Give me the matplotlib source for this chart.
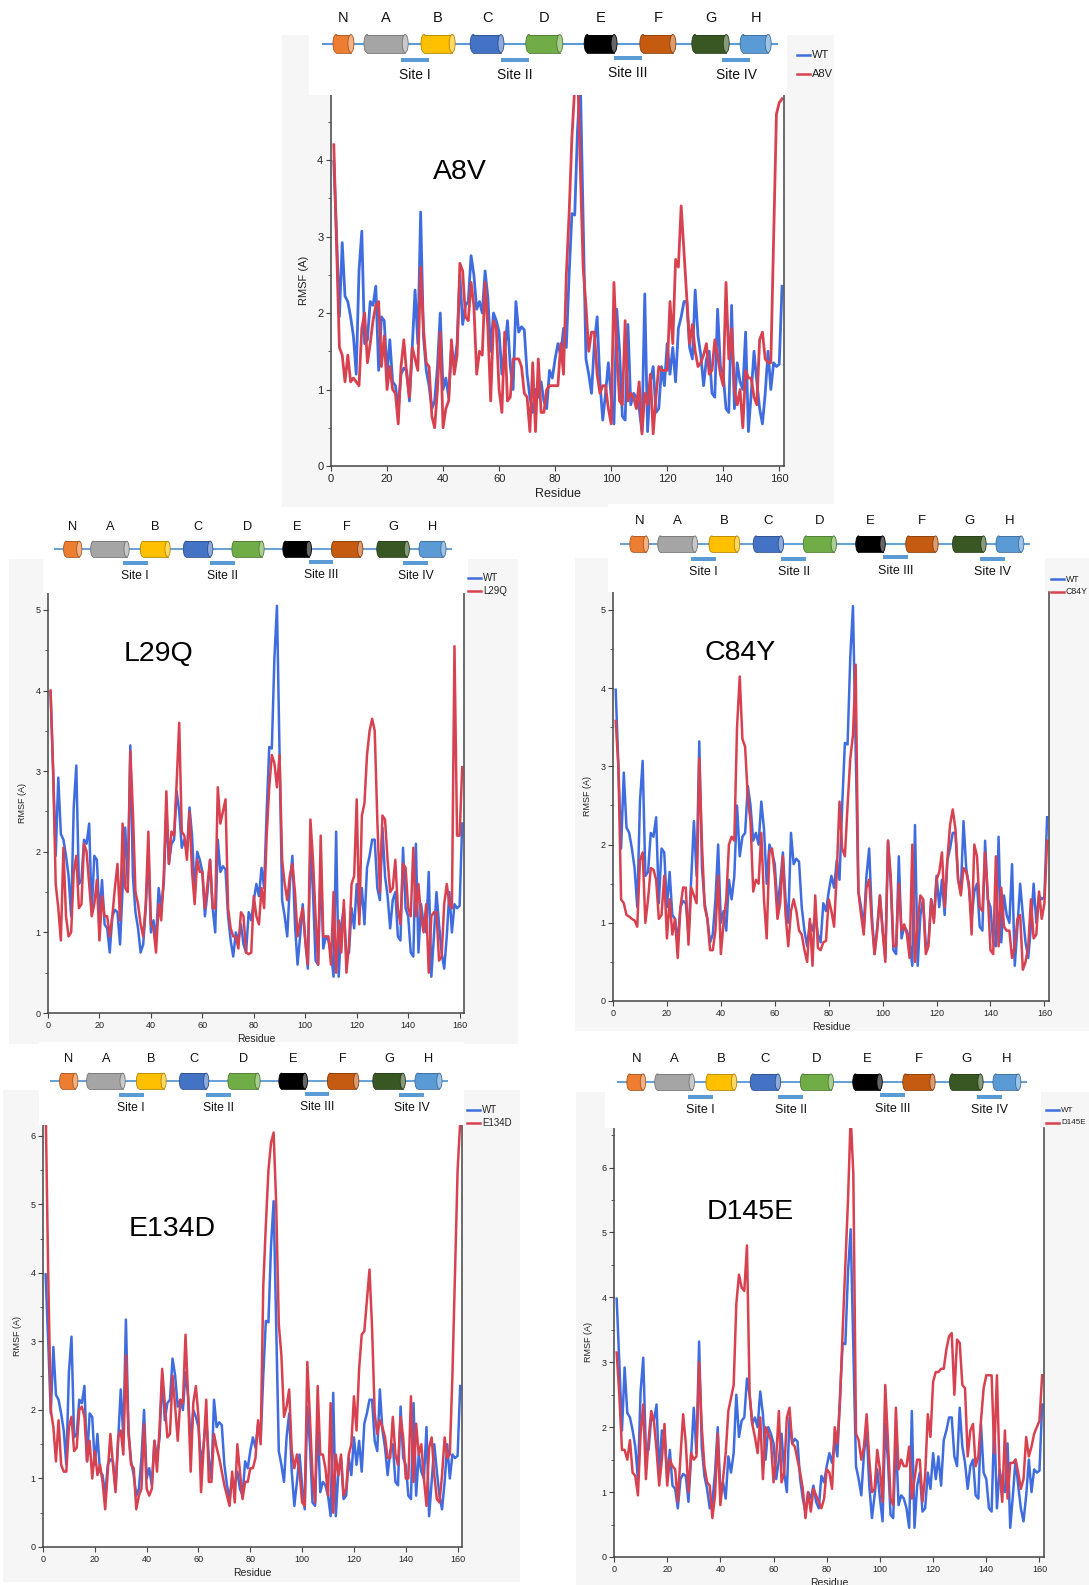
import numpy as np
import matplotlib
matplotlib.use("Agg")
import matplotlib.pyplot as plt
from matplotlib.patches import Rectangle, Ellipse
from matplotlib.lines import Line2D
from matplotlib.ticker import MultipleLocator
from matplotlib import colors as mcolors

plt.rcParams['font.family'] = ['Liberation Sans', 'DejaVu Sans']

W, H = 1089, 1585
BLUE = '#3f6ddf'
RED = '#d8414f'
BACKBONE = '#5b9bd5'
PANEL_BG = '#f6f6f6'

# per-residue RMSF (residues 1..161)
wt = [3.98, 3.0, 1.95, 2.92, 2.22, 2.15, 1.95, 1.7, 1.2, 2.55,
      3.07, 1.6, 1.65, 2.15, 2.1, 2.35, 1.25, 1.95, 1.9, 1.2,
      1.65, 1.1, 1.05, 0.75, 1.2, 1.28, 1.25, 0.85, 1.55, 2.3,
      1.6, 3.32, 1.7, 1.25, 1.05, 0.75, 0.85, 1.3, 2.0, 1.0,
      1.15, 0.9, 1.55, 1.3, 1.6, 2.5, 1.85, 2.1, 2.15, 2.75,
      2.5, 2.05, 2.15, 2.0, 2.55, 2.2, 1.5, 2.0, 1.9, 1.75,
      1.2, 1.5, 1.9, 1.3, 1.0, 2.15, 1.75, 1.82, 1.78, 1.2,
      0.9, 0.7, 1.0, 0.9, 1.1, 0.85, 0.75, 1.25, 1.15, 1.4,
      1.6, 1.45, 1.8, 1.55, 2.5, 3.3, 3.28, 4.4, 5.05, 3.2,
      1.4, 1.2, 0.95, 1.6, 1.95, 1.1, 0.6, 0.95, 1.35, 0.9,
      0.55, 2.05, 1.5, 0.65, 0.6, 1.85, 0.8, 0.95, 0.9, 0.75,
      0.45, 2.25, 0.45, 1.1, 1.3, 0.7, 0.75, 1.3, 1.05, 1.6,
      1.2, 1.55, 1.1, 1.8, 1.95, 2.15, 2.15, 1.55, 1.4, 2.3,
      1.7, 1.45, 1.05, 1.4, 1.5, 0.95, 0.9, 2.05, 1.3, 1.2,
      0.75, 0.7, 2.1, 0.75, 1.35, 1.1, 1.0, 1.75, 0.45, 0.95,
      1.5, 1.1, 0.75, 0.55, 0.95, 1.5, 1.0, 1.35, 1.3, 1.33, 2.35]

a8v = [4.2, 2.9, 1.55, 1.45, 1.1, 1.45, 1.1, 1.15, 1.1, 1.05,
       1.8, 2.0, 1.35, 1.6, 1.9, 2.1, 2.15, 1.3, 1.7, 1.0,
       1.3, 1.0, 0.95, 0.55, 1.3, 1.65, 1.2, 0.9, 1.55, 1.4,
       1.25, 2.6, 1.8, 1.35, 1.3, 0.65, 0.5, 1.0, 1.75, 0.5,
       0.75, 0.85, 1.65, 1.2, 1.45, 2.65, 2.55, 1.95, 1.9, 2.4,
       2.1, 1.2, 1.5, 1.45, 2.4, 1.8, 0.85, 1.9, 1.8, 1.0,
       0.7, 1.75, 0.85, 0.9, 1.4, 1.4, 1.4, 1.3, 0.95, 0.9,
       0.45, 1.35, 0.45, 1.4, 0.7, 0.7, 1.0, 1.05, 1.05, 1.05,
       1.05, 1.6, 1.2, 2.5, 3.3, 4.3, 4.95, 5.2, 3.9, 2.6,
       2.1, 1.5, 1.75, 1.75, 1.2, 0.95, 1.05, 1.05, 0.75, 0.55,
       2.4, 1.5, 0.85, 0.8, 1.9, 0.85, 0.95, 0.9, 0.75, 1.1,
       0.42, 0.95, 0.8, 1.2, 0.42, 0.9, 1.3, 1.25, 1.25, 1.25,
       2.15, 1.6, 2.7, 2.6, 3.4, 2.8, 2.2, 1.6, 1.85, 1.5,
       1.3, 1.35, 1.45, 1.6, 1.2, 1.25, 1.65, 1.45, 1.2, 1.05,
       2.4, 1.4, 1.8, 1.0, 0.8, 1.0, 0.5, 1.25, 1.15, 1.15,
       0.9, 0.8, 1.65, 1.75, 1.4, 1.35, 1.35, 3.0, 4.6, 4.75, 4.8]

l29q = [4.0, 3.0, 1.6, 1.3, 0.9, 2.05, 1.2, 0.95, 1.0, 1.75,
        1.95, 1.3, 1.35, 2.1, 2.0, 1.6, 1.2, 1.35, 1.65, 0.9,
        1.45, 1.2, 1.2, 0.95, 1.2, 1.55, 1.85, 1.15, 2.35, 1.55,
        1.5, 3.25, 2.5, 1.5, 1.35, 1.1, 0.95, 1.35, 2.25, 1.1,
        1.05, 0.75, 1.35, 1.15, 1.7, 2.75, 1.85, 2.25, 2.2, 2.85,
        3.6, 2.25, 2.2, 1.9, 2.5, 1.75, 1.35, 1.9, 1.75, 1.75,
        1.3, 1.6, 1.9, 1.3, 1.3, 2.8, 2.35, 2.5, 2.65, 1.3,
        1.05, 0.95, 0.95, 0.8, 1.25, 1.2, 0.75, 0.73, 0.75, 1.45,
        1.2, 1.1, 1.55, 1.3, 2.2, 2.8, 3.2, 3.1, 2.8, 3.2,
        1.9, 1.6, 1.4, 1.7, 1.85, 1.5, 0.95, 1.15, 1.3, 0.9,
        0.6, 2.4, 1.9, 1.2, 0.6, 2.2, 0.95, 0.95, 0.95, 0.6,
        1.5, 0.5, 1.15, 0.75, 1.4, 0.5, 0.85, 1.6, 1.7, 2.65,
        1.1, 2.45, 2.6, 3.2, 3.5, 3.65, 3.5, 2.4, 1.5, 2.45,
        2.4, 1.9, 1.5, 1.55, 1.9, 1.3, 1.1, 1.85, 1.8, 1.3,
        1.2, 2.05, 1.2, 1.6, 1.2, 1.0, 1.35, 0.5, 1.2, 1.25,
        1.25, 0.65, 0.7, 1.35, 1.6, 1.35, 1.3, 4.55, 2.2, 2.2, 3.05]

c84y = [3.58, 3.0, 1.3, 1.25, 1.1, 1.08, 1.05, 1.03, 0.95, 1.8,
        1.9, 1.0, 1.3, 1.7, 1.68, 1.55, 1.05, 1.1, 1.6, 0.8,
        1.3, 0.85, 1.05, 0.55, 1.2, 1.45, 1.45, 0.72, 1.45, 1.35,
        1.25, 3.1, 2.0, 1.2, 1.05, 0.65, 0.65, 0.9, 1.6, 0.6,
        1.0, 1.3, 2.0, 2.1, 2.05, 3.5, 4.15, 3.35, 3.25, 2.6,
        2.3, 1.4, 1.55, 1.5, 2.15, 1.3, 0.8, 1.9, 1.95, 1.6,
        1.05, 1.25, 1.85, 1.1, 0.7, 1.15, 1.3, 1.15, 0.9, 0.85,
        0.65, 0.5, 1.05, 0.45, 1.35, 0.68, 0.65, 0.75, 0.77, 1.3,
        1.15, 0.95, 1.65, 2.55, 1.95, 1.85, 2.5, 3.1, 3.4, 4.3,
        1.4, 1.1, 0.85, 1.45, 1.55, 1.0, 0.6, 0.9, 1.35, 0.9,
        0.5, 2.05, 1.6, 0.7, 0.7, 1.5, 0.9, 0.98, 0.85, 0.55,
        2.0, 0.5, 1.0, 1.35, 1.3, 0.6, 0.7, 1.3, 1.0, 1.55,
        1.65, 1.9, 1.2, 1.8, 2.25, 2.45, 2.2, 1.55, 1.35, 1.7,
        1.65, 1.5, 0.85, 2.0, 1.85, 1.2, 1.15, 1.9, 1.35, 0.65,
        0.6, 1.85, 0.7, 1.45, 0.95, 0.9, 0.9, 0.55, 0.7, 1.05,
        1.1, 0.4, 0.5, 0.7, 1.3, 0.8, 0.85, 1.4, 1.05, 1.25, 2.05]

e134d = [6.5, 4.0, 2.0, 1.75, 1.25, 1.85, 1.2, 1.1, 1.1, 1.75,
         1.9, 1.4, 1.45, 2.0, 2.05, 1.9, 1.25, 1.55, 1.0, 1.4,
         1.05, 1.2, 0.95, 0.55, 1.1, 1.65, 1.2, 0.8, 1.6, 1.7,
         1.35, 2.8, 1.65, 1.2, 1.15, 0.55, 0.75, 0.85, 1.8, 0.85,
         0.75, 0.85, 1.55, 1.1, 1.75, 2.6, 2.1, 1.6, 1.65, 2.5,
         2.05, 1.55, 2.15, 2.1, 3.1, 2.2, 1.1, 2.1, 2.35, 1.9,
         0.8, 1.45, 2.15, 0.95, 0.95, 1.65, 1.45, 1.3, 1.1, 0.9,
         0.75, 0.6, 1.1, 0.65, 1.5, 1.1, 0.7, 0.95, 0.95, 1.15,
         1.15, 1.3, 1.85, 1.5, 3.8, 4.7, 5.5, 5.9, 6.05, 5.0,
         3.25, 2.8, 1.9, 2.05, 2.3, 1.4, 1.15, 1.35, 1.1, 0.65,
         0.6, 2.7, 1.9, 1.05, 0.65, 2.35, 1.35, 1.35, 1.15, 0.75,
         2.1, 0.5, 1.35, 1.05, 1.35, 0.75, 0.85, 1.35, 1.5, 2.2,
         1.7, 2.6, 3.1, 3.15, 3.6, 4.05, 3.2, 1.95, 1.65, 1.85,
         1.75, 1.6, 1.3, 1.3, 1.9, 1.35, 1.2, 1.9, 1.6, 1.0,
         1.0, 2.2, 0.95, 1.8, 1.35, 1.5, 1.0, 0.6, 1.45, 1.6,
         1.05, 0.7, 0.65, 1.05, 1.6, 1.3, 1.35, 2.5, 4.0, 5.5, 6.2]

d145e = [3.15, 2.5, 1.65, 1.65, 1.5, 1.8, 1.3, 1.25, 0.95, 1.9,
         2.35, 1.2, 1.8, 2.25, 2.1, 1.65, 1.1, 1.5, 2.05, 1.1,
         1.5, 1.4, 1.35, 0.85, 1.55, 2.2, 1.75, 1.0, 1.6, 1.5,
         1.55, 3.0, 2.0, 1.4, 1.15, 1.1, 0.6, 0.95, 1.9, 0.8,
         1.2, 1.6, 2.25, 2.45, 2.65, 3.9, 4.35, 4.15, 4.1, 4.8,
         2.5, 2.05, 1.85, 1.6, 2.15, 1.2, 2.0, 1.9, 1.8, 1.15,
         1.55, 2.25, 1.15, 1.3, 2.15, 2.3, 1.75, 1.7, 1.5, 1.3,
         1.05, 0.6, 1.0, 0.7, 1.05, 0.95, 0.85, 0.75, 0.9, 1.35,
         1.3, 1.05, 2.0, 1.75, 2.4, 3.5, 4.5, 5.5, 6.8, 5.9,
         1.9, 1.8, 1.5, 1.7, 2.2, 1.5, 1.0, 1.05, 1.65, 1.35,
         0.85, 2.65, 1.8, 0.9, 0.8, 2.3, 1.35, 1.5, 1.4, 1.4,
         1.7, 0.9, 1.2, 1.5, 1.5, 0.85, 1.25, 2.2, 1.85, 2.7,
         2.85, 2.85, 2.9, 2.9, 3.2, 3.4, 3.45, 2.5, 3.35, 3.3,
         2.65, 2.6, 1.55, 1.95, 2.05, 1.4, 1.55, 2.1, 2.6, 2.8,
         2.8, 2.8, 1.6, 2.8, 1.3, 0.85, 1.95, 0.9, 1.45, 1.45,
         1.5, 1.3, 1.05, 1.2, 1.85, 1.55, 1.7, 1.9, 2.0, 2.1, 2.8]

residues = np.arange(1, len(wt) + 1)

# secondary structure cartoon (fractions along the backbone line)
helix_names = ['N', 'A', 'B', 'C', 'D', 'E', 'F', 'G', 'H']
helix_spans = [(0.024, 0.070), (0.092, 0.189), (0.217, 0.292), (0.325, 0.399),
               (0.447, 0.528), (0.575, 0.647), (0.697, 0.776), (0.811, 0.893),
               (0.917, 0.985)]
helix_colors = ['#ed7d31', '#a5a5a5', '#ffc000', '#4472c4', '#70ad47',
                '#000000', '#c55a11', '#385723', '#5b9bd5']
site_names = ['Site I', 'Site II', 'Site III', 'Site IV']
site_spans = [(0.173, 0.235), (0.393, 0.454), (0.641, 0.702), (0.877, 0.939)]
site_dy = [16.5, 16.5, 14.5, 16.5]


def fig_rect(l, t, r, b):
    return [l / W, 1 - b / H, (r - l) / W, (b - t) / H]


def shade(color, f):
    rgb = np.array(mcolors.to_rgb(color))
    if f > 0:
        return tuple(rgb + (1 - rgb) * f)
    return tuple(rgb * (1 + f))


def draw_topology(fig, box, bb):
    l, t, r, b = box
    x0, x1, yb = bb
    s = (x1 - x0) / 456.0
    ax = fig.add_axes(fig_rect(l, t, r, b))
    ax.set_xlim(l, r)
    ax.set_ylim(b, t)
    ax.set_facecolor('white')
    ax.set_xticks([])
    ax.set_yticks([])
    for sp in ax.spines.values():
        sp.set_visible(False)

    span = x1 - x0
    ax.plot([x0, x1], [yb, yb], color=BACKBONE, lw=1.5 * s, zorder=1,
            solid_capstyle='butt')
    h = 18 * s
    e = 3.0 * s
    for name, (a, c), col in zip(helix_names, helix_spans, helix_colors):
        xa = x0 + a * span
        xb = x0 + c * span
        edge = shade(col, -0.3)
        ax.add_patch(Ellipse((xa + e, yb), 2 * e, h, facecolor=col,
                             edgecolor=edge, lw=0.6, zorder=2))
        ax.add_patch(Rectangle((xa + e, yb - h / 2), xb - xa - 2 * e, h,
                               facecolor=col, edgecolor='none', zorder=3))
        ax.plot([xa + e, xb - e], [yb - h / 2] * 2, color=edge, lw=0.6, zorder=4)
        ax.plot([xa + e, xb - e], [yb + h / 2] * 2, color=edge, lw=0.6, zorder=4)
        ax.add_patch(Ellipse((xb - e, yb), 2 * e, h, facecolor=shade(col, 0.4),
                             edgecolor=edge, lw=0.6, zorder=5))
        ax.text((xa + xb) / 2, yb - 25.5 * s, name, ha='center', va='center',
                fontsize=10.5 * s, color='#111111')
    for name, (a, c), dy in zip(site_names, site_spans, site_dy):
        xa = x0 + a * span
        xb = x0 + c * span
        ax.add_patch(Rectangle((xa, yb + (dy - 2.3) * s), xb - xa, 4.6 * s,
                               facecolor=BACKBONE, edgecolor='none', zorder=2))
        ax.text((xa + xb) / 2, yb + (dy + 15) * s, name, ha='center',
                va='center', fontsize=10 * s, color='#111111')


def draw_legend(fig, x, y, gap, label, fs):
    for yy, col, txt in [(y, BLUE, 'WT'), (y + gap, RED, label)]:
        fig.add_artist(Line2D([x / W, (x + 13) / W], [1 - yy / H] * 2,
                              transform=fig.transFigure, color=col, lw=1.8))
        fig.text((x + 15) / W, 1 - yy / H, txt, fontsize=fs, va='center',
                 ha='left', color='#222222')


panels = [
    dict(name='A8V', mut=a8v, bg=(282, 35, 834, 507), box=(309, 0, 787, 95),
         bb=(322, 778, 43.5), axes=(331, 95, 784, 466), ymax=4.85,
         title=(460, 172), leg=(797, 55, 19, 8), big=True),
    dict(name='L29Q', mut=l29q, bg=(9, 559, 518, 1044), box=(43, 510, 468, 593),
         bb=(54, 452, 549), axes=(48, 593, 464, 1013), ymax=5.21,
         title=(158, 654), leg=(468, 578, 13, 7), big=False),
    dict(name='C84Y', mut=c84y, bg=(575, 558, 1089, 1031), box=(608, 504, 1045, 592),
         bb=(620, 1030, 544), axes=(613, 592, 1049, 1001), ymax=5.23,
         title=(740, 653), leg=(1051, 579, 13, 6.3), big=False),
    dict(name='E134D', mut=e134d, bg=(3, 1090, 520, 1582), box=(39, 1042, 464, 1125),
         bb=(50, 448, 1081), axes=(43, 1125, 462, 1547), ymax=6.16,
         title=(172, 1229), leg=(467, 1110, 13, 7), big=False),
    dict(name='D145E', mut=d145e, bg=(576, 1092, 1089, 1585), box=(605, 1042, 1041, 1128),
         bb=(617, 1027, 1082), axes=(614, 1128, 1044, 1557), ymax=6.61,
         title=(750, 1212), leg=(1046, 1110, 13, 5.8), big=False),
]

fig = plt.figure(figsize=(W / 100, H / 100), dpi=100)
fig.patch.set_facecolor('white')

for p in panels:
    l, t, r, b = p['bg']
    fig.add_artist(Rectangle((l / W, 1 - b / H), (r - l) / W, (b - t) / H,
                             transform=fig.transFigure, facecolor=PANEL_BG,
                             edgecolor='none', zorder=-5))

for p in panels:
    big = p['big']
    ax = fig.add_axes(fig_rect(*p['axes']))
    ax.set_facecolor('white')
    lw = 2.0 if big else 1.8
    ax.plot(residues, wt, color=BLUE, lw=lw, solid_joinstyle='round')
    ax.plot(residues, p['mut'], color=RED, lw=lw, solid_joinstyle='round')
    ax.set_xlim(0, 161.7)
    ax.set_ylim(0, p['ymax'])
    ax.set_xticks(range(0, 161, 20))
    ax.yaxis.set_major_locator(MultipleLocator(1))
    ax.yaxis.set_minor_locator(MultipleLocator(0.5))
    ax.spines['top'].set_visible(False)
    for side in ['left', 'bottom', 'right']:
        ax.spines[side].set_color('#444444')
        ax.spines[side].set_linewidth(1.1)
    tfs = 8 if big else 6.5
    ax.tick_params(which='both', direction='out', color='#444444',
                   labelsize=tfs, labelcolor='#222222', pad=2)
    ax.tick_params(which='major', length=3.5)
    ax.tick_params(which='minor', length=2.5)
    ax.set_xlabel('Residue', fontsize=9 if big else 7.5, labelpad=3, color='#222222')
    ax.set_ylabel('RMSF (A)', fontsize=8 if big else 6.5, labelpad=6, color='#222222')

    tx, ty = p['title']
    fig.text(tx / W, 1 - ty / H, p['name'], fontsize=20.5, ha='center',
             va='center', color='black')

    draw_topology(fig, p['box'], p['bb'])
    lx, ly, gap, lfs = p['leg']
    draw_legend(fig, lx, ly, gap, p['name'], lfs)

fig.savefig('out.png', dpi=100)
